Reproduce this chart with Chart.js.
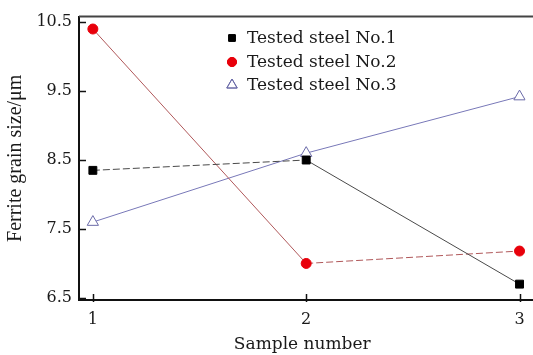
<!DOCTYPE html>
<html><head><meta charset="utf-8">
<script src="https://cdn.jsdelivr.net/npm/chart.js@4/dist/chart.umd.min.js"></script>
<style>html,body{margin:0;padding:0;background:#fff;}#wrap{width:533px;height:355px;}</style>
</head><body><div id="wrap"><canvas id="c" width="533" height="355"></canvas></div>
<script>
const samples = [1, 2, 3];
const steel1 = [8.35, 8.5, 6.7];
const steel2 = [10.4, 7.0, 7.18];
const steel3 = [7.6, 8.6, 9.42];
const seriesNames = ['Tested steel No.1', 'Tested steel No.2', 'Tested steel No.3'];
const yTicks = [6.5, 7.5, 8.5, 9.5, 10.5];
const xTicks = [1, 2, 3];

const FONT = '"DejaVu Serif", "Liberation Serif", serif';
const pts = arr => arr.map((v, i) => ({x: samples[i], y: v}));

const markers = [
  {style: 'rect', r: 5.6, fill: '#000', stroke: '#000'},
  {style: 'circle', r: 5, fill: '#e8000b', stroke: '#e8000b'},
  {style: 'triangle', r: 6.5, fill: '#fff', stroke: '#6a6aa8'}
];

const decor = {
  id: 'decor',
  afterDraw(chart) {
    const ctx = chart.ctx, a = chart.chartArea;
    const xs = chart.scales.x, ys = chart.scales.y;
    ctx.save();
    // top border
    ctx.strokeStyle = '#444'; ctx.lineWidth = 2;
    ctx.beginPath(); ctx.moveTo(a.left, a.top); ctx.lineTo(chart.width, a.top); ctx.stroke();
    // bottom axis extension to right edge
    ctx.strokeStyle = '#111'; ctx.lineWidth = 2;
    ctx.beginPath(); ctx.moveTo(a.right - 1, a.bottom); ctx.lineTo(chart.width, a.bottom); ctx.stroke();
    // inner ticks
    ctx.strokeStyle = '#111'; ctx.lineWidth = 1.5;
    yTicks.forEach(v => {
      const y = Math.round(ys.getPixelForValue(v)) + 0.5;
      ctx.beginPath(); ctx.moveTo(a.left, y); ctx.lineTo(a.left + 7, y); ctx.stroke();
    });
    xTicks.forEach(v => {
      const x = Math.round(xs.getPixelForValue(v)) + 0.5;
      ctx.beginPath(); ctx.moveTo(x, a.bottom + 2); ctx.lineTo(x, a.bottom - 6); ctx.stroke();
    });
    // legend
    ctx.font = '17px ' + FONT;
    ctx.textBaseline = 'middle';
    const lx = 232, ly = [38, 62, 85];
    seriesNames.forEach((n, i) => {
      const m = markers[i];
      ctx.fillStyle = m.fill; ctx.strokeStyle = m.stroke; ctx.lineWidth = 1;
      Chart.helpers.drawPoint(ctx, {pointStyle: m.style, radius: i === 0 ? 4.6 : (i === 1 ? 4.5 : 6), borderWidth: 1}, lx, ly[i]);
      if (m.style !== 'triangle') ctx.fill();
      ctx.stroke();
      ctx.fillStyle = '#1a1a1a';
      ctx.fillText(n, 247, ly[i] + 1);
    });
    ctx.restore();
  }
};

const ds = (label, data, lineColor, m, dashFirst) => ({
  label, data: pts(data),
  borderColor: lineColor, borderWidth: 1,
  pointStyle: m.style, pointRadius: m.r, pointHoverRadius: m.r,
  pointBackgroundColor: m.fill, pointBorderColor: m.stroke, pointBorderWidth: 1,
  segment: {borderDash: c => (dashFirst === null ? undefined : (c.p0DataIndex === dashFirst ? [7, 3] : undefined))},
  tension: 0
});

new Chart(document.getElementById('c'), {
  type: 'line',
  data: {
    datasets: [
      ds(seriesNames[0], steel1, '#4a4a4a', markers[0], 0),
      ds(seriesNames[1], steel2, '#b0585a', markers[1], 1),
      ds(seriesNames[2], steel3, '#7878b8', markers[2], null)
    ]
  },
  plugins: [decor],
  options: {
    responsive: false, animation: false, devicePixelRatio: 1,
    layout: {padding: {top: 14, right: 0, left: 0, bottom: 0}},
    plugins: {legend: {display: false}, tooltip: {enabled: false}},
    scales: {
      x: {
        type: 'linear', min: 0.935, max: 3.028,
        afterBuildTicks: s => { s.ticks = xTicks.map(v => ({value: v})); },
        afterFit: s => { s.height = 55; s.paddingLeft = 0; s.paddingRight = 0; },
        grid: {display: false, drawTicks: false},
        border: {display: true, color: '#111', width: 2},
        ticks: {padding: 10, color: '#1a1a1a', font: {family: FONT, size: 16}, callback: v => String(v)},
        title: {display: true, text: 'Sample number', color: '#1a1a1a', font: {family: FONT, size: 17}, padding: {top: 3, bottom: 0}}
      },
      y: {
        min: 6.47, max: 10.58,
        afterBuildTicks: s => { s.ticks = yTicks.map(v => ({value: v})); },
        afterFit: s => { s.width = 79; },
        grid: {display: false, drawTicks: false},
        border: {display: true, color: '#111', width: 2},
        ticks: {padding: 7, color: '#1a1a1a', font: {family: FONT, size: 16}, callback: v => v.toFixed(1)},
        title: {display: true, text: 'Ferrite grain size/μm', color: '#1a1a1a', font: {family: '"Liberation Serif", serif', size: 20}, padding: {top: 4, bottom: 4}}
      }
    }
  }
});
</script></body></html>
